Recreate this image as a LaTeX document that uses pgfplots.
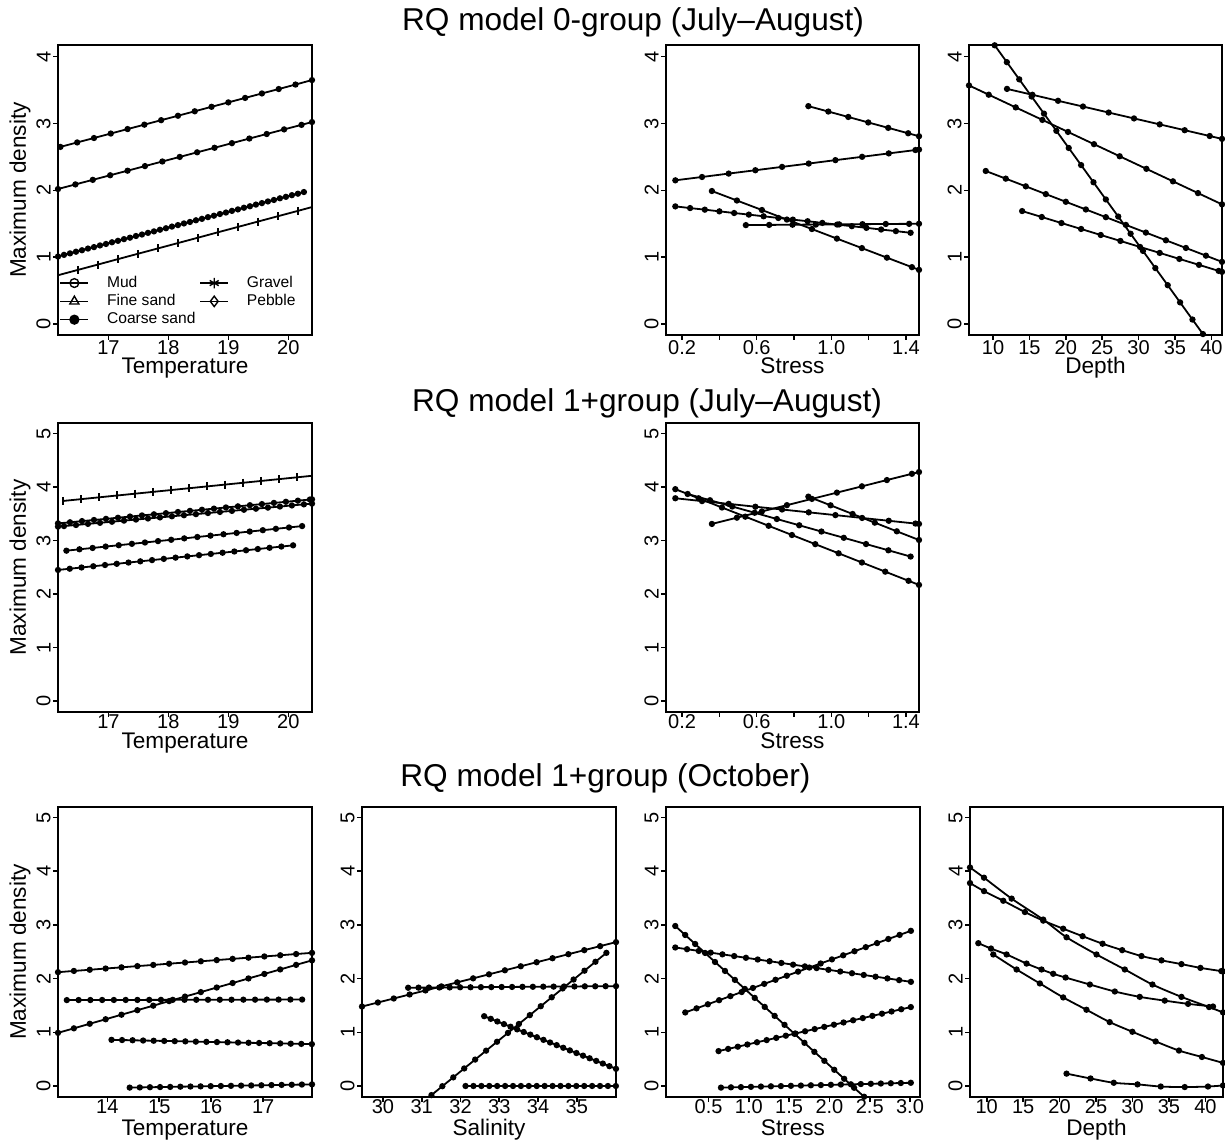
\documentclass[border=0pt]{standalone}
\usepackage{pgfplots}
\pgfplotsset{compat=1.18}
\usepackage{fontspec}
\setmainfont{Liberation Sans}
\begin{document}
\begin{tikzpicture}
\pgfplotsset{
  panel/.style={
    scale only axis, anchor=south west,
    width=127pt, height=145pt,
    axis line style={line width=0.9pt},
    tick align=outside, tick pos=left,
    major tick length=2.5pt, minor tick length=2.5pt,
    every tick/.style={black, line width=0.8pt},
    tick label style={font=\fontsize{10}{11}\selectfont},
    yticklabel style={rotate=90, anchor=south, inner sep=1pt},
    xticklabel style={inner sep=0.5pt, yshift=0.5pt},
    /pgf/number format/assume math mode=true,
  },
  r1/.style={ymin=-0.164, ymax=4.175, ytick={0,1,2,3,4}},
  r23/.style={ymin=-0.205, ymax=5.197, ytick={0,1,2,3,4,5}, xticklabel style={yshift=1.5pt}},
  stress/.style={xmin=0.114, xmax=1.47, xtick={0.2,0.6,1.0,1.4}, xticklabels={0.2,0.6,1.0,1.4}, minor xtick={0.4,0.8,1.2}},
  ln/.style={black, line width=0.9pt, mark=*, mark size=1.1pt, mark options={solid}},
  lt/.style={black, line width=0.9pt, mark=|, mark size=2pt, mark options={solid}},
}
\path[use as bounding box] (0,0) rectangle (612.5pt,570pt);

% ---------------- row 1 ----------------
\begin{axis}[panel, r1, at={(29pt,402.5pt)},
  xmin=16.16, xmax=20.395, xtick={17,18,19,20},
  legend columns=2, legend cell align=left,
  legend style={at={(0.005,0.013)}, anchor=south west, draw=none, fill=none, inner sep=0pt,
    font=\fontsize{7.8}{8.5}\selectfont, row sep=-2pt, cells={anchor=west},
    /tikz/every odd column/.append style={column sep=7pt},
    /tikz/every even column/.append style={column sep=0pt}},
  legend image code/.code={\draw[#1, mark repeat=2, mark phase=2] plot coordinates {(0pt,0pt)(7pt,0pt)(14pt,0pt)};}]
\addlegendimage{black, line width=0.7pt, mark=o, mark size=2.2pt}\addlegendentry{Mud}
\addlegendimage{black, line width=0.7pt, mark=asterisk, mark size=2.6pt}\addlegendentry{Gravel}
\addlegendimage{black, line width=0.7pt, mark=triangle, mark size=2.6pt}\addlegendentry{Fine sand}
\addlegendimage{black, line width=0.7pt, mark=diamond, mark size=2.6pt}\addlegendentry{Pebble}
\addlegendimage{black, line width=0.7pt, mark=*, mark size=2.2pt}\addlegendentry{Coarse sand}
\addplot[ln] coordinates {(16.20,2.650) (16.48,2.717) (16.76,2.783) (17.04,2.850) (17.32,2.917) (17.60,2.983) (17.88,3.050) (18.16,3.116) (18.44,3.183) (18.72,3.250) (19.00,3.316) (19.28,3.383) (19.56,3.450) (19.84,3.516) (20.12,3.583) (20.395,3.650)};
\addplot[ln] coordinates {(16.16,2.020) (16.45,2.089) (16.74,2.157) (17.03,2.226) (17.32,2.294) (17.61,2.363) (17.90,2.432) (18.19,2.500) (18.48,2.569) (18.77,2.637) (19.06,2.706) (19.35,2.775) (19.64,2.843) (19.93,2.912) (20.22,2.980) (20.395,3.022)};
\addplot[ln] coordinates {(16.16,1.010) (16.36,1.057) (16.56,1.104) (16.76,1.151) (16.96,1.198) (17.16,1.245) (17.36,1.292) (17.56,1.339) (17.76,1.386) (17.96,1.433) (18.16,1.480) (18.36,1.527) (18.56,1.574) (18.76,1.621) (18.96,1.668) (19.16,1.715) (19.36,1.762) (19.56,1.809) (19.76,1.856) (19.96,1.903) (20.16,1.950)};
\addplot[ln] coordinates {(16.26,1.035) (16.46,1.082) (16.66,1.129) (16.86,1.176) (17.06,1.223) (17.26,1.270) (17.46,1.317) (17.66,1.364) (17.86,1.411) (18.06,1.458) (18.26,1.505) (18.46,1.552) (18.66,1.599) (18.86,1.646) (19.06,1.693) (19.26,1.740) (19.46,1.787) (19.66,1.834) (19.86,1.881) (20.06,1.928) (20.26,1.975)};
\addplot[lt] coordinates {(16.160,0.730) (16.493,0.810) (16.826,0.890) (17.159,0.971) (17.492,1.051) (17.825,1.131) (18.158,1.211) (18.491,1.291) (18.824,1.372) (19.157,1.452) (19.490,1.532) (19.823,1.612) (20.156,1.692) (20.395,1.750)};
\end{axis}

\begin{axis}[panel, r1, stress, at={(333pt,402.5pt)}, width=126.5pt]
\addplot[ln] coordinates {(0.877,3.260) (0.984,3.179) (1.091,3.098) (1.198,3.016) (1.305,2.935) (1.412,2.854) (1.47,2.810)};
\addplot[ln] coordinates {(0.164,2.150) (0.307,2.200) (0.450,2.251) (0.593,2.301) (0.736,2.351) (0.879,2.401) (1.022,2.452) (1.165,2.502) (1.308,2.553) (1.451,2.603) (1.47,2.610)};
\addplot[ln] coordinates {(0.360,1.990) (0.494,1.848) (0.628,1.706) (0.762,1.563) (0.896,1.421) (1.030,1.278) (1.164,1.136) (1.298,0.993) (1.432,0.851) (1.47,0.810)};
\addplot[ln] coordinates {(0.164,1.760) (0.243,1.735) (0.322,1.711) (0.400,1.686) (0.479,1.661) (0.558,1.637) (0.637,1.612) (0.716,1.587) (0.794,1.562) (0.873,1.538) (0.952,1.513) (1.031,1.488) (1.110,1.464) (1.188,1.439) (1.267,1.414) (1.346,1.390) (1.425,1.365)};
\addplot[ln] coordinates {(0.542,1.480) (0.667,1.483) (0.792,1.486) (0.917,1.488) (1.042,1.491) (1.167,1.494) (1.292,1.497) (1.417,1.499) (1.47,1.500)};
\end{axis}

\begin{axis}[panel, r1, at={(484.5pt,402.5pt)}, width=126.5pt,
  xmin=6.70, xmax=41.46, xtick={10,15,20,25,30,35,40}]
\addplot[ln] coordinates {(10.23,4.170) (11.90,3.918) (13.60,3.661) (15.30,3.404) (17.00,3.148) (18.70,2.891) (20.40,2.634) (22.10,2.378) (23.80,2.121) (25.50,1.864) (27.20,1.608) (28.90,1.351) (30.60,1.094) (32.30,0.837) (34.00,0.581) (35.70,0.324) (37.40,0.067) (38.84,-0.150)};
\addplot[ln] coordinates {(6.70,3.570) (9.41,3.431) (13.12,3.241) (16.78,3.054) (20.30,2.874) (23.87,2.691) (27.40,2.510) (31.07,2.322) (34.72,2.135) (38.16,1.959) (41.46,1.790)};
\addplot[ln] coordinates {(11.92,3.518) (15.41,3.430) (18.93,3.340) (22.36,3.254) (25.89,3.164) (29.37,3.076) (32.90,2.987) (36.33,2.900) (39.77,2.813) (41.46,2.770)};
\addplot[ln] coordinates {(9.00,2.290) (11.75,2.175) (14.50,2.060) (17.25,1.944) (20.00,1.829) (22.75,1.714) (25.50,1.599) (28.25,1.483) (31.00,1.368) (33.75,1.253) (36.50,1.138) (39.25,1.023) (41.46,0.930)};
\addplot[ln] coordinates {(14.0,1.690) (16.7,1.601) (19.4,1.511) (22.1,1.422) (24.8,1.332) (27.5,1.243) (30.2,1.153) (32.9,1.064) (35.6,0.974) (38.3,0.885) (41.0,0.795) (41.46,0.780)};
\end{axis}

% ---------------- row 2 ----------------
\begin{axis}[panel, r23, at={(29pt,214pt)}, height=144.5pt,
  xmin=16.16, xmax=20.395, xtick={17,18,19,20}]
\addplot[lt] coordinates {(16.25,3.740) (16.55,3.774) (16.85,3.808) (17.15,3.842) (17.45,3.876) (17.75,3.910) (18.05,3.944) (18.35,3.978) (18.65,4.012) (18.95,4.046) (19.25,4.080) (19.55,4.114) (19.85,4.148) (20.15,4.182) (20.395,4.210)};
\addplot[ln] coordinates {(16.16,3.320) (16.36,3.341) (16.56,3.363) (16.76,3.384) (16.96,3.405) (17.16,3.426) (17.36,3.448) (17.56,3.469) (17.76,3.490) (17.96,3.511) (18.16,3.533) (18.36,3.554) (18.56,3.575) (18.76,3.596) (18.96,3.618) (19.16,3.639) (19.36,3.660) (19.56,3.681) (19.76,3.703) (19.96,3.724) (20.16,3.745) (20.36,3.766) (20.395,3.770)};
\addplot[ln] coordinates {(16.16,3.260) (16.26,3.270) (16.46,3.290) (16.66,3.311) (16.86,3.331) (17.06,3.351) (17.26,3.372) (17.46,3.392) (17.66,3.412) (17.86,3.432) (18.06,3.453) (18.26,3.473) (18.46,3.493) (18.66,3.514) (18.86,3.534) (19.06,3.554) (19.26,3.575) (19.46,3.595) (19.66,3.615) (19.86,3.635) (20.06,3.656) (20.26,3.676) (20.395,3.690)};
\addplot[ln] coordinates {(16.300,2.810) (16.518,2.836) (16.737,2.861) (16.955,2.887) (17.173,2.912) (17.392,2.938) (17.610,2.963) (17.828,2.989) (18.047,3.014) (18.265,3.040) (18.483,3.066) (18.702,3.091) (18.920,3.117) (19.138,3.142) (19.357,3.168) (19.575,3.193) (19.793,3.219) (20.012,3.244) (20.230,3.270)};
\addplot[ln] coordinates {(16.160,2.450) (16.356,2.473) (16.552,2.496) (16.748,2.519) (16.944,2.542) (17.140,2.565) (17.336,2.588) (17.532,2.611) (17.728,2.634) (17.924,2.657) (18.120,2.680) (18.316,2.703) (18.512,2.726) (18.708,2.749) (18.904,2.772) (19.100,2.795) (19.296,2.818) (19.492,2.841) (19.688,2.864) (19.884,2.887) (20.080,2.910)};
\end{axis}

\begin{axis}[panel, r23, stress, at={(333pt,214pt)}, width=126.5pt, height=144.5pt]
\addplot[ln] coordinates {(0.360,3.310) (0.494,3.427) (0.628,3.544) (0.762,3.661) (0.896,3.778) (1.030,3.895) (1.164,4.013) (1.298,4.130) (1.432,4.247) (1.47,4.280)};
\addplot[ln] coordinates {(0.164,3.960) (0.289,3.789) (0.414,3.617) (0.539,3.446) (0.664,3.275) (0.789,3.103) (0.914,2.932) (1.039,2.761) (1.164,2.589) (1.289,2.418) (1.414,2.247) (1.47,2.170)};
\addplot[ln] coordinates {(0.164,3.790) (0.307,3.737) (0.450,3.685) (0.593,3.632) (0.736,3.580) (0.879,3.527) (1.022,3.475) (1.165,3.422) (1.308,3.369) (1.451,3.317) (1.47,3.310)};
\addplot[ln] coordinates {(0.230,3.870) (0.350,3.753) (0.469,3.636) (0.589,3.519) (0.708,3.402) (0.828,3.285) (0.947,3.168) (1.067,3.051) (1.186,2.934) (1.306,2.817) (1.425,2.700)};
\addplot[ln] coordinates {(0.877,3.820) (0.996,3.658) (1.114,3.496) (1.233,3.334) (1.351,3.172) (1.47,3.010)};
\end{axis}

% ---------------- row 3 ----------------
\begin{axis}[panel, r23, at={(29pt,21.5pt)},
  xmin=13.05, xmax=17.94, xtick={14,15,16,17}]
\addplot[ln] coordinates {(13.050,2.120) (13.356,2.143) (13.661,2.165) (13.967,2.188) (14.272,2.210) (14.578,2.233) (14.884,2.255) (15.189,2.278) (15.495,2.300) (15.800,2.323) (16.106,2.345) (16.412,2.368) (16.717,2.390) (17.023,2.413) (17.328,2.435) (17.634,2.458) (17.940,2.480)};
\addplot[ln] coordinates {(13.050,0.990) (13.356,1.074) (13.661,1.159) (13.967,1.243) (14.272,1.328) (14.578,1.412) (14.884,1.496) (15.189,1.581) (15.495,1.665) (15.800,1.749) (16.106,1.834) (16.412,1.918) (16.717,2.003) (17.023,2.087) (17.328,2.171) (17.634,2.256) (17.940,2.340)};
\addplot[ln] coordinates {(13.220,1.600) (13.447,1.601) (13.673,1.601) (13.900,1.602) (14.126,1.602) (14.353,1.603) (14.579,1.603) (14.806,1.604) (15.032,1.604) (15.259,1.605) (15.485,1.605) (15.712,1.606) (15.938,1.606) (16.165,1.607) (16.391,1.607) (16.618,1.608) (16.844,1.608) (17.071,1.609) (17.297,1.609) (17.524,1.610) (17.750,1.610)};
\addplot[ln] coordinates {(14.080,0.860) (14.283,0.856) (14.486,0.852) (14.689,0.847) (14.892,0.843) (15.095,0.839) (15.298,0.835) (15.501,0.831) (15.704,0.826) (15.907,0.822) (16.110,0.818) (16.313,0.814) (16.516,0.809) (16.719,0.805) (16.922,0.801) (17.125,0.797) (17.328,0.793) (17.531,0.788) (17.734,0.784) (17.937,0.780)};
\addplot[ln] coordinates {(14.430,-0.030) (14.625,-0.027) (14.820,-0.023) (15.015,-0.020) (15.210,-0.017) (15.405,-0.013) (15.600,-0.010) (15.795,-0.007) (15.990,-0.003) (16.185,0.000) (16.380,0.003) (16.575,0.007) (16.770,0.010) (16.965,0.013) (17.160,0.017) (17.355,0.020) (17.550,0.023) (17.745,0.027) (17.940,0.030)};
\end{axis}

\begin{axis}[panel, r23, at={(181pt,21.5pt)},
  xmin=29.46, xmax=36.01, xtick={30,31,32,33,34,35}]
\addplot[ln] coordinates {(29.460,1.480) (29.869,1.555) (30.279,1.630) (30.688,1.705) (31.098,1.780) (31.507,1.855) (31.916,1.930) (32.326,2.005) (32.735,2.080) (33.145,2.155) (33.554,2.230) (33.963,2.305) (34.373,2.380) (34.782,2.455) (35.192,2.530) (35.601,2.605) (36.010,2.680)};
\addplot[ln] coordinates {(30.650,1.830) (30.918,1.832) (31.186,1.833) (31.454,1.835) (31.722,1.836) (31.990,1.838) (32.258,1.839) (32.526,1.841) (32.794,1.842) (33.062,1.844) (33.330,1.845) (33.598,1.847) (33.866,1.848) (34.134,1.850) (34.402,1.851) (34.670,1.853) (34.938,1.854) (35.206,1.856) (35.474,1.857) (35.742,1.859) (36.010,1.860)};
\addplot[ln] coordinates {(31.250,-0.170) (31.532,-0.004) (31.814,0.161) (32.096,0.327) (32.378,0.492) (32.660,0.658) (32.942,0.824) (33.224,0.989) (33.506,1.155) (33.788,1.320) (34.070,1.486) (34.352,1.652) (34.634,1.817) (34.916,1.983) (35.198,2.148) (35.480,2.314) (35.762,2.480)};
\addplot[ln] coordinates {(32.610,1.300) (32.780,1.251) (32.950,1.202) (33.120,1.153) (33.290,1.104) (33.460,1.055) (33.630,1.006) (33.800,0.957) (33.970,0.908) (34.140,0.859) (34.310,0.810) (34.480,0.761) (34.650,0.712) (34.820,0.663) (34.990,0.614) (35.160,0.565) (35.330,0.516) (35.500,0.467) (35.670,0.418) (35.840,0.369) (36.010,0.320)};
\addplot[ln] coordinates {(32.130,0) (32.334,0) (32.538,0) (32.742,0) (32.946,0) (33.150,0) (33.354,0) (33.558,0) (33.762,0) (33.966,0) (34.170,0) (34.374,0) (34.578,0) (34.782,0) (34.986,0) (35.190,0) (35.394,0) (35.598,0) (35.802,0) (36.006,0)};
\end{axis}

\begin{axis}[panel, r23, at={(333pt,21.5pt)},
  xmin=-0.028, xmax=3.124, xtick={0.5,1.0,1.5,2.0,2.5,3.0}, xticklabels={0.5,1.0,1.5,2.0,2.5,3.0}]
\addplot[ln] coordinates {(0.087,2.980) (0.210,2.813) (0.334,2.645) (0.457,2.478) (0.580,2.310) (0.704,2.143) (0.827,1.976) (0.950,1.808) (1.073,1.641) (1.197,1.473) (1.320,1.306) (1.443,1.139) (1.567,0.971) (1.690,0.804) (1.813,0.636) (1.937,0.469) (2.060,0.302) (2.183,0.134) (2.306,-0.033) (2.430,-0.200)};
\addplot[ln] coordinates {(0.087,2.580) (0.233,2.548) (0.379,2.516) (0.526,2.484) (0.672,2.452) (0.818,2.420) (0.964,2.388) (1.110,2.356) (1.257,2.324) (1.403,2.292) (1.549,2.260) (1.695,2.228) (1.841,2.196) (1.988,2.164) (2.134,2.132) (2.280,2.100) (2.426,2.068) (2.572,2.036) (2.719,2.004) (2.865,1.972) (3.011,1.940)};
\addplot[ln] coordinates {(0.211,1.370) (0.351,1.446) (0.491,1.522) (0.631,1.598) (0.771,1.674) (0.911,1.750) (1.051,1.826) (1.191,1.902) (1.331,1.978) (1.471,2.054) (1.611,2.130) (1.751,2.206) (1.891,2.282) (2.031,2.358) (2.171,2.434) (2.311,2.510) (2.451,2.586) (2.591,2.662) (2.731,2.738) (2.871,2.814) (3.011,2.890)};
\addplot[ln] coordinates {(0.624,0.650) (0.743,0.691) (0.863,0.732) (0.982,0.773) (1.101,0.814) (1.221,0.855) (1.340,0.896) (1.459,0.937) (1.578,0.978) (1.698,1.019) (1.817,1.060) (1.936,1.101) (2.056,1.142) (2.175,1.183) (2.294,1.224) (2.414,1.265) (2.533,1.306) (2.652,1.347) (2.771,1.388) (2.891,1.429) (3.010,1.470)};
\addplot[ln] coordinates {(0.654,-0.030) (0.778,-0.025) (0.902,-0.021) (1.026,-0.016) (1.150,-0.011) (1.274,-0.006) (1.398,-0.002) (1.522,0.003) (1.646,0.008) (1.770,0.013) (1.894,0.017) (2.018,0.022) (2.142,0.027) (2.266,0.032) (2.390,0.036) (2.514,0.041) (2.638,0.046) (2.762,0.051) (2.886,0.055) (3.010,0.060)};
\end{axis}

\begin{axis}[panel, r23, at={(485pt,21.5pt)}, width=126.5pt,
  xmin=7.71, xmax=42.41, xtick={10,15,20,25,30,35,40}]
\addplot[ln, smooth] coordinates {(7.71,4.07) (9.63,3.88) (13.42,3.49) (17.75,3.10) (20.95,2.77) (25.06,2.45) (28.94,2.17) (32.73,1.89) (36.71,1.66) (40.50,1.47) (42.41,1.37)};
\addplot[ln, smooth] coordinates {(7.71,3.78) (9.63,3.63) (12.27,3.45) (15.24,3.24) (17.75,3.08) (20.49,2.93) (23.15,2.79) (25.89,2.65) (28.58,2.53) (31.23,2.42) (33.97,2.34) (36.71,2.27) (39.31,2.20) (42.18,2.14) (42.41,2.135)};
\addplot[ln, smooth] coordinates {(8.85,2.66) (10.59,2.56) (12.73,2.45) (15.47,2.28) (17.52,2.17) (19.12,2.09) (20.82,2.02) (24.15,1.89) (27.57,1.76) (30.99,1.66) (34.42,1.59) (37.62,1.53) (41.04,1.48)};
\addplot[ln, smooth] coordinates {(10.90,2.45) (14.10,2.17) (17.29,1.91) (20.49,1.65) (23.68,1.42) (26.87,1.19) (29.98,1.01) (33.17,0.83) (36.37,0.66) (39.52,0.54) (42.41,0.43)};
\addplot[ln, smooth] coordinates {(20.95,0.23) (24.24,0.14) (27.43,0.06) (30.68,0.03) (33.87,-0.01) (37.16,-0.02) (40.35,-0.01) (42.41,0.01)};
\end{axis}

% ---------------- titles and labels ----------------
\begin{scope}[every node/.style={font=\fontsize{15.8}{18}\selectfont, anchor=base west, inner sep=0pt}]
\node at (200.85pt,554.75pt) {RQ model 0-group (July–August)};
\node at (205.85pt,364pt) {RQ model 1+group (July–August)};
\node at (200pt,176.5pt) {RQ model 1+group (October)};
\end{scope}
\begin{scope}[every node/.style={font=\fontsize{11.3}{13}\selectfont, inner sep=0pt}]
\node[rotate=90] at (10pt,475pt) {Maximum density};
\node[rotate=90] at (10pt,286.25pt) {Maximum density};
\node[rotate=90] at (10pt,94pt) {Maximum density};
\node[anchor=base] at (92.5pt,383pt) {Temperature};
\node[anchor=base] at (396.25pt,383pt) {Stress};
\node[anchor=base] at (547.75pt,383pt) {Depth};
\node[anchor=base] at (92.5pt,195.5pt) {Temperature};
\node[anchor=base] at (396.25pt,195.5pt) {Stress};
\node[anchor=base] at (92.5pt,2.5pt) {Temperature};
\node[anchor=base] at (244.5pt,2.5pt) {Salinity};
\node[anchor=base] at (396.5pt,2.5pt) {Stress};
\node[anchor=base] at (548.25pt,2.5pt) {Depth};
\end{scope}
\end{tikzpicture}
\end{document}
